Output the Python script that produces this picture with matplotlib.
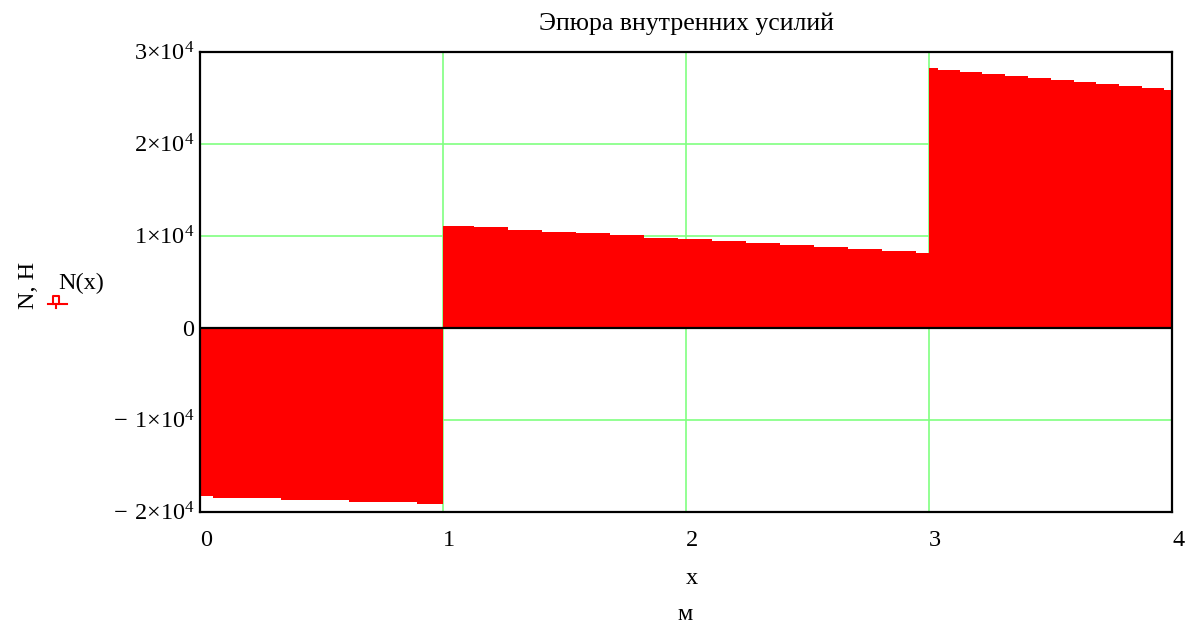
import numpy as np
import matplotlib
matplotlib.use("Agg")
import matplotlib.pyplot as plt
from matplotlib.lines import Line2D

# step edges (m) and internal force N (H) for each beam segment
edges_1 = [0.0, 0.051, 0.332, 0.612, 0.892]
force_1 = [-18330, -18550, -18770, -18980, -19200]

edges_2 = [1.0, 1.125, 1.265, 1.405, 1.545, 1.685, 1.825, 1.965,
           2.105, 2.245, 2.385, 2.525, 2.665, 2.805, 2.945]
force_2 = [11100, 10890, 10670, 10450, 10240, 10020, 9800, 9590,
           9370, 9150, 8940, 8720, 8500, 8290, 8070]

edges_3 = [3.0, 3.035, 3.125, 3.215, 3.31, 3.405, 3.5, 3.595,
           3.685, 3.78, 3.875, 3.965, 4.0]
force_3 = [28220, 28010, 27790, 27570, 27360, 27140, 26920, 26710,
           26490, 26270, 26060, 25840]

x_ticks = [0, 1, 2, 3, 4]
y_ticks = [-20000, -10000, 0, 10000, 20000, 30000]
y_tick_labels = [r"$\mathregular{-\ 2{\times}10^4}$", r"$\mathregular{-\ 1{\times}10^4}$",
                 r"$\mathregular{0}$", r"$\mathregular{1{\times}10^4}$",
                 r"$\mathregular{2{\times}10^4}$", r"$\mathregular{3{\times}10^4}$"]

plt.rcParams["font.family"] = ["Liberation Serif", "DejaVu Serif"]
plt.rcParams["mathtext.fontset"] = "custom"
plt.rcParams["mathtext.rm"] = "Liberation Serif"

fig = plt.figure(figsize=(11.9, 6.3), dpi=100)
ax = fig.add_axes([0.1683, 0.1878, 0.8168, 0.7302])

edges = np.array(edges_1 + edges_2 + edges_3)
values = np.array(force_1 + force_2 + force_3)
ax.stairs(values, edges, baseline=0, fill=True, color="#ff0000", zorder=2)

ax.set_xlim(0, 4)
ax.set_ylim(-20000, 30000)
ax.grid(True, color="#80ff80", linewidth=1.2, zorder=1)
ax.set_axisbelow(True)
ax.axhline(0, color="black", linewidth=1.6, zorder=3)

ax.set_xticks(x_ticks)
ax.set_xticklabels([str(t) for t in x_ticks], fontsize=17.5, ha="left")
ax.set_yticks(y_ticks)
ax.set_yticklabels(y_tick_labels, fontsize=17.5, va="top")
ax.tick_params(axis="x", length=0, pad=13)
ax.tick_params(axis="y", length=0, pad=4)
for lbl in ax.get_yticklabels():
    lbl.set_va("center_baseline")
for s in ax.spines.values():
    s.set_linewidth(1.6)
    s.set_color("black")

fig.text(0.577, 0.963, "Эпюра внутренних усилий", fontsize=18.5, ha="center", va="center")
fig.text(0.581, 0.082, "x", fontsize=17.5, ha="center", va="center")
fig.text(0.576, 0.024, "м", fontsize=17.5, ha="center", va="center")
fig.text(0.024, 0.547, "N, H", fontsize=17.5, rotation=90, ha="center", va="center")
fig.text(0.068, 0.55, "N(x)", fontsize=17.5, ha="center", va="center")

# small legend symbol below N(x)
fig.add_artist(Line2D([0.040, 0.056], [0.517, 0.517], color="red", linewidth=1.5,
                      transform=fig.transFigure))
fig.add_artist(Line2D([0.0445, 0.0445, 0.0495, 0.0495], [0.517, 0.530, 0.530, 0.517],
                      color="red", linewidth=1.5, transform=fig.transFigure))
fig.add_artist(Line2D([0.047, 0.047], [0.511, 0.517], color="red", linewidth=1.5,
                      transform=fig.transFigure))

fig.savefig("out.png", dpi=100)
